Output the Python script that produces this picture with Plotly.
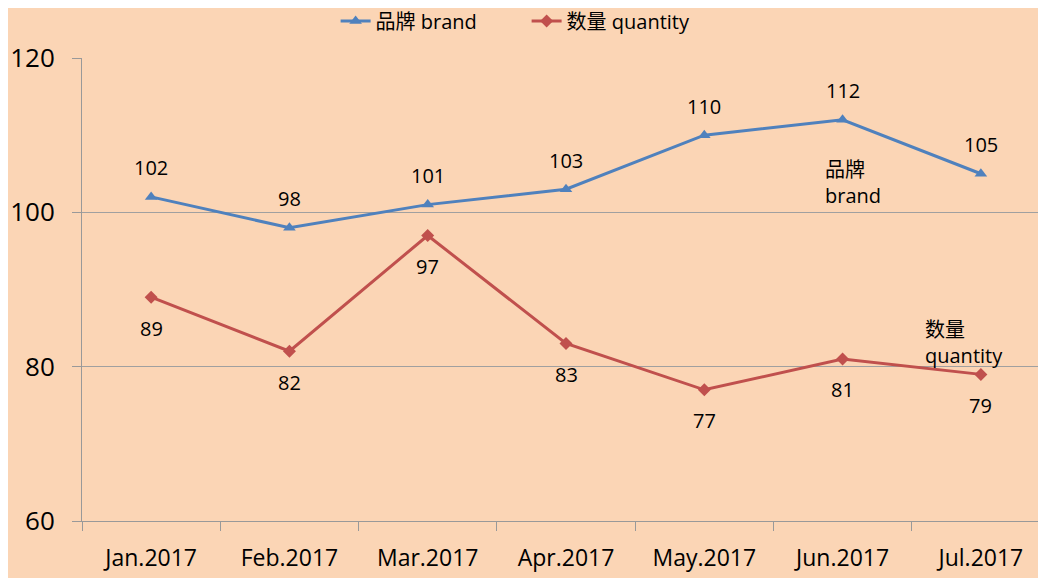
import plotly.graph_objects as go

months = ["Jan.2017", "Feb.2017", "Mar.2017", "Apr.2017", "May.2017", "Jun.2017", "Jul.2017"]
brand = [102, 98, 101, 103, 110, 112, 105]
quantity = [89, 82, 97, 83, 77, 81, 79]
y_ticks = [60, 80, 100, 120]

BG = "#FBD5B5"
BLUE = "#4F81BD"
RED = "#C0504D"
FONT = "Open Sans, Noto Sans CJK SC, sans-serif"
xs = list(range(len(months)))

fig = go.Figure()
fig.add_trace(go.Scatter(x=xs, y=brand, mode="lines+markers", name="品牌 brand",
                         line=dict(color=BLUE, width=3),
                         marker=dict(symbol="triangle-up", size=11, color=BLUE)))
fig.add_trace(go.Scatter(x=xs, y=quantity, mode="lines+markers", name="数量 quantity",
                         line=dict(color=RED, width=3),
                         marker=dict(symbol="diamond", size=10, color=RED)))

anns = []
for x, v in zip(xs, brand):
    anns.append(dict(x=x, y=v, text=str(v), showarrow=False, yshift=29,
                     font=dict(size=20, color="#000000", family=FONT)))
for x, v in zip(xs, quantity):
    anns.append(dict(x=x, y=v, text=str(v), showarrow=False, yshift=-31,
                     font=dict(size=20, color="#000000", family=FONT)))
anns.append(dict(x=4.86, y=103.9, text="品牌<br>brand", showarrow=False, align="left",
                 xanchor="left", font=dict(size=20, color="#000000", family=FONT)))
anns.append(dict(x=5.58, y=83.1, text="数量<br>quantity", showarrow=False, align="left",
                 xanchor="left", font=dict(size=20, color="#000000", family=FONT)))

fig.update_layout(
    width=1046, height=578,
    paper_bgcolor=BG, plot_bgcolor=BG,
    margin=dict(l=74, r=4, t=50, b=65, autoexpand=False),
    font=dict(family=FONT, color="#000000"),
    showlegend=True,
    legend=dict(orientation="h", x=0.262, xanchor="left",
                y=1.0 - 13 / 578, yref="container", yanchor="middle",
                font=dict(size=20), bgcolor="rgba(0,0,0,0)",
                itemwidth=30, entrywidth=146, entrywidthmode="pixels"),
    annotations=anns,
    xaxis=dict(range=[-0.5, 6.5], tickmode="array", tickvals=xs, ticktext=months,
               showgrid=False, zeroline=False, showline=True, linecolor="#999999",
               linewidth=1, ticks="", tickfont=dict(size=23), ticklabelstandoff=16,
               tickangle=0),
    yaxis=dict(range=[60, 120], tickmode="array", tickvals=y_ticks,
               showgrid=True, gridcolor="#A0A0A0", gridwidth=1, zeroline=False,
               showline=True, linecolor="#999999", linewidth=1,
               ticks="outside", ticklen=9, tickcolor="#999999",
               tickfont=dict(size=26), ticklabelstandoff=12),
)
fig.update_xaxes(minor=dict(tickmode="array", tickvals=[i - 0.5 for i in xs] + [6.5],
                            ticks="outside", ticklen=9, tickcolor="#999999", showgrid=False))
fig.write_html("out.html")
